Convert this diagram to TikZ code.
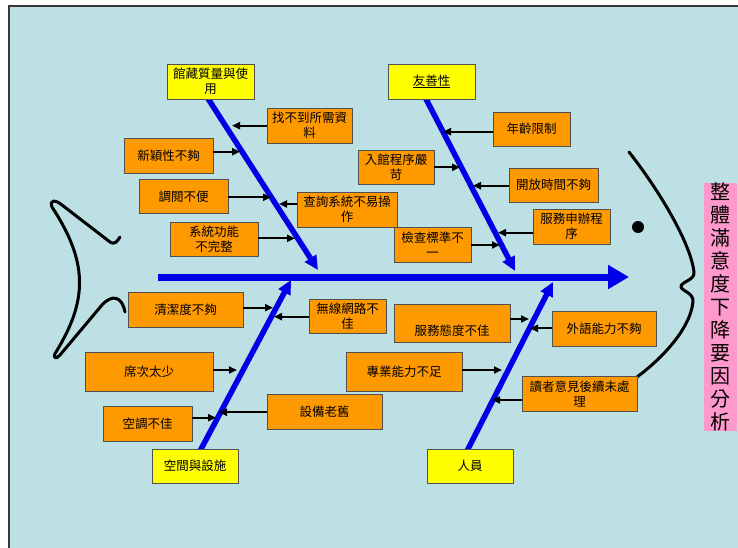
\documentclass[tikz,border=0pt]{standalone}
\usepackage{fontspec}
\setmainfont{Noto Sans CJK TC}
\usetikzlibrary{arrows.meta}
\definecolor{bgC}{RGB}{188,224,228}
\definecolor{orangeC}{RGB}{255,153,0}
\definecolor{yellowC}{RGB}{255,255,0}
\definecolor{pinkC}{RGB}{255,153,204}
\definecolor{blueC}{RGB}{0,0,230}
\definecolor{boxgray}{RGB}{80,80,80}
\tikzset{
  obox/.style={draw=boxgray, fill=orangeC, line width=0.8pt, inner sep=1pt, align=center,
    font=\fontsize{12.5}{15}\selectfont},
  ybox/.style={obox, fill=yellowC},
  bone/.style={draw=blueC, line width=5.5pt, -{Triangle[length=14pt,width=13pt]}},
  spine/.style={draw=blueC, line width=7pt, -{Triangle[length=21pt,width=23pt]}},
  sarrow/.style={draw=black, line width=2pt, -{Triangle[length=8pt,width=7pt]}},
  fishline/.style={draw=black, line width=3pt, line cap=round, line join=round},
}
\begin{document}
\begin{tikzpicture}[x=1pt,y=-1pt]
\useasboundingbox (0,0) rectangle (738,548);
\fill[white] (0,0) rectangle (738,548);
\fill[bgC] (9,6) rectangle (738,548);
\draw[boxgray!70!black, line width=1.5pt] (9,548) -- (9,6) -- (738,6);

% fish tail
\draw[fishline] (120,237) .. controls (117,242) and (114,245) .. (110,242) -- (62,205)
  .. controls (56,200) and (49,199) .. (52,207)
  .. controls (88,262) and (88,300) .. (56,352)
  .. controls (52,358) and (56,360) .. (60,355) -- (102,305)
  .. controls (112,294) and (122,296) .. (125,312);
% fish head
\draw[fishline] (629,152) .. controls (655,185) and (690,240) .. (694,272)
  .. controls (695,280) and (683,281) .. (681,286)
  .. controls (680,291) and (694,292) .. (693,302)
  .. controls (690,330) and (660,360) .. (637,377);
\fill[black] (638,227) circle (6);

% coordinates of bones
\coordinate (b1s) at (207,97);  \coordinate (b1t) at (318,270);
\coordinate (b2s) at (425,97);  \coordinate (b2t) at (515,271);
\coordinate (b3s) at (200,451); \coordinate (b3t) at (291,280);
\coordinate (b4s) at (467,451); \coordinate (b4t) at (553,282);
\coordinate (sps) at (158,277); \coordinate (spt) at (629,277);

\draw[spine] (sps) -- (spt);
\draw[bone] (b1s) -- (b1t);
\draw[bone] (b2s) -- (b2t);
\draw[bone] (b3s) -- (b3t);
\draw[bone] (b4s) -- (b4t);

% category boxes
\node[ybox, minimum width=87pt, minimum height=35pt] (Y1) at (210.5,81.5) {館藏質量與使\\用};
\node[ybox, minimum width=87pt, minimum height=35pt] (Y2) at (431.5,81.5) {\underline{友善性}};
\node[ybox, minimum width=86pt, minimum height=34pt] (Y3) at (195,466) {空間與設施};
\node[ybox, minimum width=86pt, minimum height=34pt] (Y4) at (470,466) {人員};

% cause boxes
\node[obox, minimum width=85pt, minimum height=35pt] (O1) at (309.5,125.5) {找不到所需資\\料};
\node[obox, minimum width=89pt, minimum height=35pt] (O2) at (168.5,155.5) {新穎性不夠};
\node[obox, minimum width=89pt, minimum height=34pt] (O3) at (183.5,196.5) {調閱不便};
\node[obox, minimum width=100pt, minimum height=35pt] (O4) at (347,209.5) {查詢系統不易操\\作};
\node[obox, minimum width=88pt, minimum height=34pt] (O5) at (214,239) {系統功能\\不完整};
\node[obox, minimum width=77pt, minimum height=34pt] (O6) at (531.5,129) {年齡限制};
\node[obox, minimum width=76pt, minimum height=34pt] (O7) at (396,167) {入館程序嚴\\苛};
\node[obox, minimum width=89pt, minimum height=34pt] (O8) at (553.5,185) {開放時間不夠};
\node[obox, minimum width=77pt, minimum height=35pt] (O9) at (571.5,226.5) {服務申辦程\\序};
\node[obox, minimum width=77pt, minimum height=35pt] (O10) at (432.5,244.5) {檢查標準不\\一};
\node[obox, minimum width=115pt, minimum height=35pt] (O11) at (185.5,309.5) {清潔度不夠};
\node[obox, minimum width=77pt, minimum height=34pt] (O12) at (347.5,316) {無線網路不\\佳};
\node[obox, minimum width=128pt, minimum height=39pt] (O13) at (149,371.5) {席次太少};
\node[obox, minimum width=115pt, minimum height=35pt] (O14) at (324.5,411.5) {設備老舊};
\node[obox, minimum width=89pt, minimum height=35pt] (O15) at (147.5,423.5) {空調不佳};
\node[obox, minimum width=116pt, minimum height=38pt] (O16) at (452,323) {\strut\\服務態度不佳};
\node[obox, minimum width=104pt, minimum height=35pt] (O17) at (604,328.5) {外語能力不夠};
\node[obox, minimum width=116pt, minimum height=39pt] (O18) at (404,371.5) {專業能力不足};
\node[obox, minimum width=115pt, minimum height=35pt] (O19) at (579.5,393.5) {讀者意見後續未處\\理};

% effect box
\node[draw=none, fill=pinkC, minimum width=33pt, minimum height=248pt, inner sep=0pt, align=center,
  font=\fontsize{20}{23}\selectfont] (P) at (720.5,307)
  {整\\體\\滿\\意\\度\\下\\降\\要\\因\\分\\析};

% arrow tips on bones
\coordinate (t1) at (232,125.7);
\coordinate (t2) at (240,151.7);
\coordinate (t3) at (271,197.3);
\coordinate (t4) at (279,204);
\coordinate (t5) at (295,238.3);
\coordinate (t6) at (443,131.7);
\coordinate (t7) at (460,167.3);
\coordinate (t8) at (473,185.7);
\coordinate (t9) at (498,232.7);
\coordinate (t10) at (500,245);
\coordinate (t11) at (273,307.7);
\coordinate (t12) at (274,316.7);
\coordinate (t13) at (237,370);
\coordinate (t14) at (219,412.3);
\coordinate (t15) at (216,417.7);
\coordinate (t16) at (529,319);
\coordinate (t17) at (530,328.3);
\coordinate (t18) at (502,370);
\coordinate (t19) at (492,400);

\draw[sarrow] (t1 -| O1.west) -- (t1);
\draw[sarrow] (t2 -| O2.east) -- (t2);
\draw[sarrow] (t3 -| O3.east) -- (t3);
\draw[sarrow] (t4 -| O4.west) -- (t4);
\draw[sarrow] (t5 -| O5.east) -- (t5);
\draw[sarrow] (t6 -| O6.west) -- (t6);
\draw[sarrow] (t7 -| O7.east) -- (t7);
\draw[sarrow] (t8 -| O8.west) -- (t8);
\draw[sarrow] (t9 -| O9.west) -- (t9);
\draw[sarrow] (t10 -| O10.east) -- (t10);
\draw[sarrow] (t11 -| O11.east) -- (t11);
\draw[sarrow] (t12 -| O12.west) -- (t12);
\draw[sarrow] (t13 -| O13.east) -- (t13);
\draw[sarrow] (t14 -| O14.west) -- (t14);
\draw[sarrow] (t15 -| O15.east) -- (t15);
\draw[sarrow] (t16 -| O16.east) -- (t16);
\draw[sarrow] (t17 -| O17.west) -- (t17);
\draw[sarrow] (t18 -| O18.east) -- (t18);
\draw[sarrow] (t19 -| O19.west) -- (t19);
\end{tikzpicture}
\end{document}
